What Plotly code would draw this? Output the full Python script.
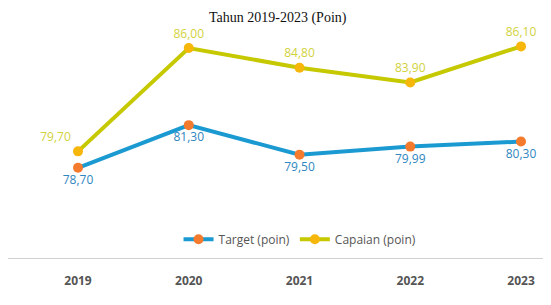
import plotly.graph_objects as go

years = ["2019", "2020", "2021", "2022", "2023"]
target = [78.70, 81.30, 79.50, 79.99, 80.30]
capaian = [79.70, 86.00, 84.80, 83.90, 86.10]
title_text = "Tahun 2019-2023 (Poin)"

def fmt(v):
    return f"{v:.2f}".replace(".", ",")

xs = list(range(len(years)))

fig = go.Figure()
fig.add_trace(go.Scatter(
    x=xs, y=target, name="Target (poin)",
    mode="lines+markers+text",
    line=dict(color="#1b9ad2", width=4),
    marker=dict(color="#f47b2e", size=10),
    text=[fmt(v) for v in target], textposition="bottom center",
    textfont=dict(color="#2f86c0", size=12, family="Open Sans"),
))
fig.add_trace(go.Scatter(
    x=xs, y=capaian, name="Capaian (poin)",
    mode="lines+markers+text",
    line=dict(color="#c6c800", width=4),
    marker=dict(color="#f6b70a", size=10),
    text=[fmt(v) for v in capaian],
    textposition=["top left", "top center", "top center", "top center", "top center"],
    textfont=dict(color="#d2d23c", size=12, family="Open Sans"),
))

fig.add_annotation(
    text=title_text, xref="paper", yref="paper", x=0.49, y=1.0,
    xanchor="center", yanchor="top", showarrow=False,
    font=dict(family="Liberation Serif", size=14, color="#111111"),
)

fig.update_layout(
    width=551, height=305,
    margin=dict(l=0, r=0, t=0, b=55),
    paper_bgcolor="white", plot_bgcolor="white",
    showlegend=True,
    legend=dict(orientation="h", x=0.53, y=0.075, xanchor="center", yanchor="middle",
                font=dict(size=12, color="#555555", family="Open Sans"),
                bgcolor="rgba(0,0,0,0)"),
    xaxis=dict(
        range=[-0.632, 4.343], tickmode="array", tickvals=xs,
        ticktext=[f"<b>{y}</b>" for y in years],
        showgrid=False, zeroline=False,
        showline=True, linecolor="#d0d0d0", linewidth=1,
        tickfont=dict(size=12, color="#555555", family="Open Sans"),
        ticks="", ticklabelstandoff=12,
    ),
    yaxis=dict(range=[73.2, 88.44], visible=False),
)

fig.write_html("out.html")
